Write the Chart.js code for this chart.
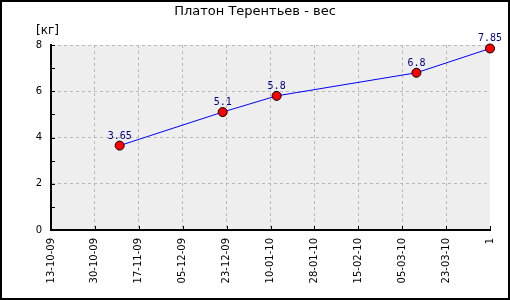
<!DOCTYPE html>
<html>
<head>
<meta charset="utf-8">
<script src="https://cdn.jsdelivr.net/npm/chart.js@4"></script>
<style>
	body { margin: 0; background: #ffffff; }
</style>
</head>
<body>
<canvas id="weightChart" width="510" height="300"></canvas>
<script>
"use strict";

var chartTitle = "Платон Терентьев - вес";
var unitLabel = "[кг]";

// x axis: days since 13-10-09, ten equal steps
var tickLabels = ["13-10-09", "30-10-09", "17-11-09", "05-12-09", "23-12-09",
	"10-01-10", "28-01-10", "15-02-10", "05-03-10", "23-03-10", "1"];
var spanDays = 179;

var pointDays = [28, 70, 92, 149, 179];
var weights = [3.65, 5.1, 5.8, 6.8, 7.85];

var yMin = 0;
var yMax = 8;
var yStep = 2;

var plotBack = "#eeeeee";
var gridColor = "#b8b8b8";

function makePoints() {
	var pts = [];
	for (var i = 0; i < weights.length; i++) {
		pts.push({ x: pointDays[i], y: weights[i] });
	}
	return pts;
}

var decorPlugin = {
	id: "decor",
	beforeDraw: function (chart) {
		var ctx = chart.ctx;
		var area = chart.chartArea;
		ctx.save();
		ctx.fillStyle = "#ffffff";
		ctx.fillRect(0, 0, chart.width, chart.height);
		ctx.fillStyle = plotBack;
		ctx.fillRect(area.left, area.top, area.right - area.left, area.bottom - area.top);
		ctx.restore();
	},
	afterDatasetsDraw: function (chart) {
		var ctx = chart.ctx;
		var meta = chart.getDatasetMeta(0);
		ctx.save();
		ctx.font = "10px 'DejaVu Sans Mono'";
		ctx.fillStyle = "#000080";
		ctx.textAlign = "center";
		ctx.textBaseline = "alphabetic";
		meta.data.forEach(function (pt, i) {
			ctx.fillText(String(weights[i]), pt.x, pt.y - 7);
		});
		ctx.restore();
	},
	afterDraw: function (chart) {
		var ctx = chart.ctx;
		var area = chart.chartArea;
		var xs = chart.scales.x;
		var ys = chart.scales.y;
		ctx.save();
		ctx.strokeStyle = "#000000";
		ctx.lineWidth = 1;
		ctx.beginPath();
		// inward tick marks on the y axis, minor ones too
		for (var v = yMin; v <= yMax; v++) {
			var py = Math.round(ys.getPixelForValue(v)) + 0.5;
			ctx.moveTo(area.left, py);
			ctx.lineTo(area.left + 4, py);
		}
		// inward tick marks on the x axis
		xs.ticks.forEach(function (t) {
			var px = Math.round(xs.getPixelForValue(t.value)) + 0.5;
			ctx.moveTo(px, area.bottom);
			ctx.lineTo(px, area.bottom - 4);
		});
		ctx.stroke();

		ctx.fillStyle = "#000000";
		ctx.textBaseline = "middle";
		ctx.textAlign = "center";
		ctx.font = "13px 'DejaVu Sans'";
		ctx.fillText(chartTitle, chart.width / 2, 12);

		ctx.textAlign = "left";
		ctx.font = "12px 'DejaVu Sans'";
		ctx.fillText(unitLabel, 36, 31);

		ctx.lineWidth = 2;
		ctx.strokeRect(1, 1, chart.width - 2, chart.height - 2);
		ctx.restore();
	}
};

var ctx = document.getElementById("weightChart").getContext("2d");

var weightChart = new Chart(ctx, {
	type: "line",
	data: {
		datasets: [{
			data: makePoints(),
			borderColor: "#0000ff",
			borderWidth: 1,
			backgroundColor: "#ff0000",
			pointBackgroundColor: "#ff0000",
			pointBorderColor: "#000000",
			pointBorderWidth: 1,
			pointRadius: 4.5,
			tension: 0,
			clip: false
		}]
	},
	options: {
		responsive: false,
		animation: false,
		events: [],
		layout: {
			padding: { left: 0, right: 20, top: 45, bottom: 0 }
		},
		plugins: {
			legend: { display: false },
			tooltip: { enabled: false },
			title: { display: false }
		},
		scales: {
			x: {
				type: "linear",
				min: 0,
				max: spanDays,
				afterBuildTicks: function (axis) {
					axis.ticks = tickLabels.map(function (l, i) {
						return { value: i * spanDays / (tickLabels.length - 1) };
					});
				},
				afterFit: function (axis) {
					axis.height = 70;
				},
				ticks: {
					autoSkip: false,
					maxRotation: 90,
					minRotation: 90,
					padding: 8,
					color: "#000000",
					font: { family: "'DejaVu Sans'", size: 10 },
					callback: function (value, index) {
						return tickLabels[index];
					}
				},
				grid: {
					drawTicks: false,
					color: function (c) {
						if (c.index === 0 || c.index === tickLabels.length - 1) {
							return "rgba(0,0,0,0)";
						}
						return gridColor;
					}
				},
				border: { color: "#000000", width: 2, dash: [3, 3] }
			},
			y: {
				min: yMin,
				max: yMax,
				afterFit: function (axis) {
					axis.width = 51;
				},
				ticks: {
					stepSize: yStep,
					padding: 9,
					color: "#000000",
					font: { family: "'DejaVu Sans'", size: 10 }
				},
				grid: {
					drawTicks: false,
					color: function (c) {
						return c.tick && c.tick.value === yMin ? "rgba(0,0,0,0)" : gridColor;
					}
				},
				border: { color: "#000000", width: 2, dash: [3, 3] }
			}
		}
	},
	plugins: [decorPlugin]
});
</script>
</body>
</html>
